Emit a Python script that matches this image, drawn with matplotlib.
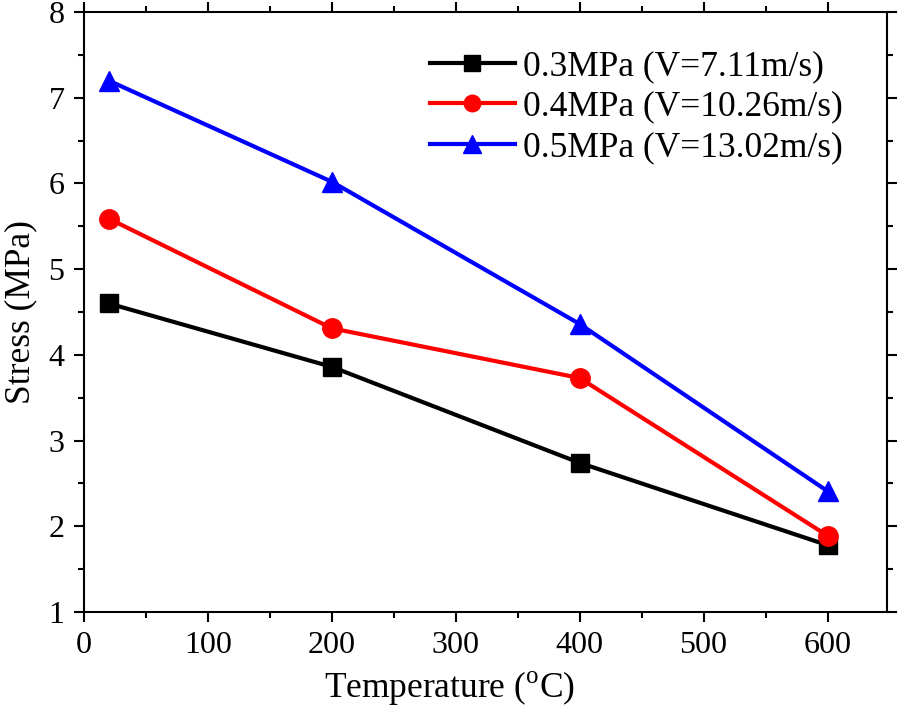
import matplotlib
matplotlib.use("Agg")
import matplotlib.pyplot as plt
from matplotlib.ticker import MultipleLocator

temperature = [20, 200, 400, 600]
stress_03 = [4.60, 3.86, 2.74, 1.78]
stress_04 = [5.59, 4.31, 3.73, 1.89]
stress_05 = [7.20, 6.02, 4.36, 2.41]
labels = ["0.3MPa (V=7.11m/s)", "0.4MPa (V=10.26m/s)", "0.5MPa (V=13.02m/s)"]

plt.rcParams['font.family'] = ['Liberation Serif', 'DejaVu Serif']
plt.rcParams['mathtext.fontset'] = 'custom'
plt.rcParams['mathtext.rm'] = 'Liberation Serif'

fig = plt.figure(figsize=(9.01, 7.09), dpi=100)
ax = fig.add_axes([0.0932, 0.1368, 0.8913, 0.8462])

ax.plot(temperature, stress_03, color='black', lw=3, marker='s', ms=13, label=labels[0])
ax.plot(temperature, stress_04, color='red', lw=3, marker='o', ms=14, label=labels[1])
ax.plot(temperature, stress_05, color='blue', lw=3, marker='^', ms=15, label=labels[2])

ax.set_xlim(0, 648)
ax.set_ylim(1, 8)
ax.xaxis.set_major_locator(MultipleLocator(100))
ax.xaxis.set_minor_locator(MultipleLocator(50))
ax.yaxis.set_major_locator(MultipleLocator(1))
ax.yaxis.set_minor_locator(MultipleLocator(0.5))
ax.tick_params(which='both', direction='out', top=True, right=True, width=1.5, labelsize=23, pad=7)
ax.tick_params(which='major', length=7)
ax.tick_params(which='minor', length=4)
for s in ax.spines.values():
    s.set_linewidth(1.5)

ax.set_xlabel(r'Temperature ($^{\mathregular{o}}$C)', fontsize=25.5)
ax.xaxis.set_label_coords(0.455, -0.095)
ax.set_ylabel('Stress (MPa)', fontsize=25.5, labelpad=8)

leg = ax.legend(loc='upper right', bbox_to_anchor=(0.985, 0.99), frameon=False, fontsize=25.5,
                handlelength=2.4, handletextpad=0.25, labelspacing=0.22, markerscale=0.85)

fig.savefig('out.png', dpi=100)
